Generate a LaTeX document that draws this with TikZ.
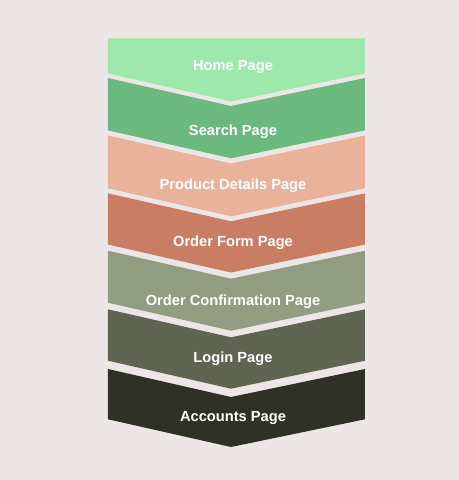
\documentclass[tikz,border=0pt]{standalone}
\usepackage{fontspec}
\setmainfont{Liberation Sans}

\definecolor{bgcol}{RGB}{236,230,230}
\definecolor{homecol}{RGB}{157,232,170}
\definecolor{searchcol}{RGB}{107,185,126}
\definecolor{detailscol}{RGB}{233,178,154}
\definecolor{formcol}{RGB}{201,125,98}
\definecolor{confirmcol}{RGB}{146,156,128}
\definecolor{logincol}{RGB}{95,101,81}
\definecolor{accountscol}{RGB}{47,49,40}

\begin{document}
\begin{tikzpicture}[x=0.75pt, y=-0.75pt,
		pagelabel/.style={text=white, font=\fontsize{11}{13}\selectfont\bfseries, anchor=base, inner sep=0pt}]
		% фон
		\fill [bgcol] ( 0, 0 ) rectangle ( 459, 480 );
		\useasboundingbox ( 0, 0 ) rectangle ( 459, 480 );

		% Home Page
		\fill [homecol] ( 108, 38.3 ) -- ( 365, 38.3 ) -- ( 365, 73.4 ) -- ( 231, 101.4 ) -- ( 108, 73.4 ) -- cycle;
		\node [pagelabel] (home) at ( 233, 70.7 ) {Home Page};

		% Search Page
		\fill [searchcol] ( 108, 78.0 ) -- ( 231, 106.0 ) -- ( 365, 78.0 ) -- ( 365, 130.3 ) -- ( 231, 158.3 ) -- ( 108, 130.3 ) -- cycle;
		\node [pagelabel] (search) at ( 233, 135.0 ) {Search Page};

		% Product Details Page
		\fill [detailscol] ( 108, 135.5 ) -- ( 231, 163.5 ) -- ( 365, 135.5 ) -- ( 365, 188.3 ) -- ( 231, 216.3 ) -- ( 108, 188.3 ) -- cycle;
		\node [pagelabel] (details) at ( 233, 189.3 ) {Product Details Page};

		% Order Form Page
		\fill [formcol] ( 108, 193.3 ) -- ( 231, 221.3 ) -- ( 365, 193.3 ) -- ( 365, 244.5 ) -- ( 231, 272.5 ) -- ( 108, 244.5 ) -- cycle;
		\node [pagelabel] (orderform) at ( 233, 246.7 ) {Order Form Page};

		% Order Confirmation Page
		\fill [confirmcol] ( 108, 250.7 ) -- ( 231, 278.7 ) -- ( 365, 250.7 ) -- ( 365, 302.7 ) -- ( 231, 330.7 ) -- ( 108, 302.7 ) -- cycle;
		\node [pagelabel] (confirm) at ( 233, 305.7 ) {Order Confirmation Page};

		% Login Page
		\fill [logincol] ( 108, 309.3 ) -- ( 231, 337.3 ) -- ( 365, 309.3 ) -- ( 365, 360.7 ) -- ( 231, 388.7 ) -- ( 108, 360.7 ) -- cycle;
		\node [pagelabel] (login) at ( 233, 362.7 ) {Login Page};

		% Accounts Page
		\fill [accountscol] ( 108, 369.0 ) -- ( 231, 397.0 ) -- ( 365, 369.0 ) -- ( 365, 419.3 ) -- ( 231, 447.0 ) -- ( 108, 419.3 ) -- cycle;
		\node [pagelabel] (accounts) at ( 233, 421.7 ) {Accounts Page};
	\end{tikzpicture}
\end{document}
